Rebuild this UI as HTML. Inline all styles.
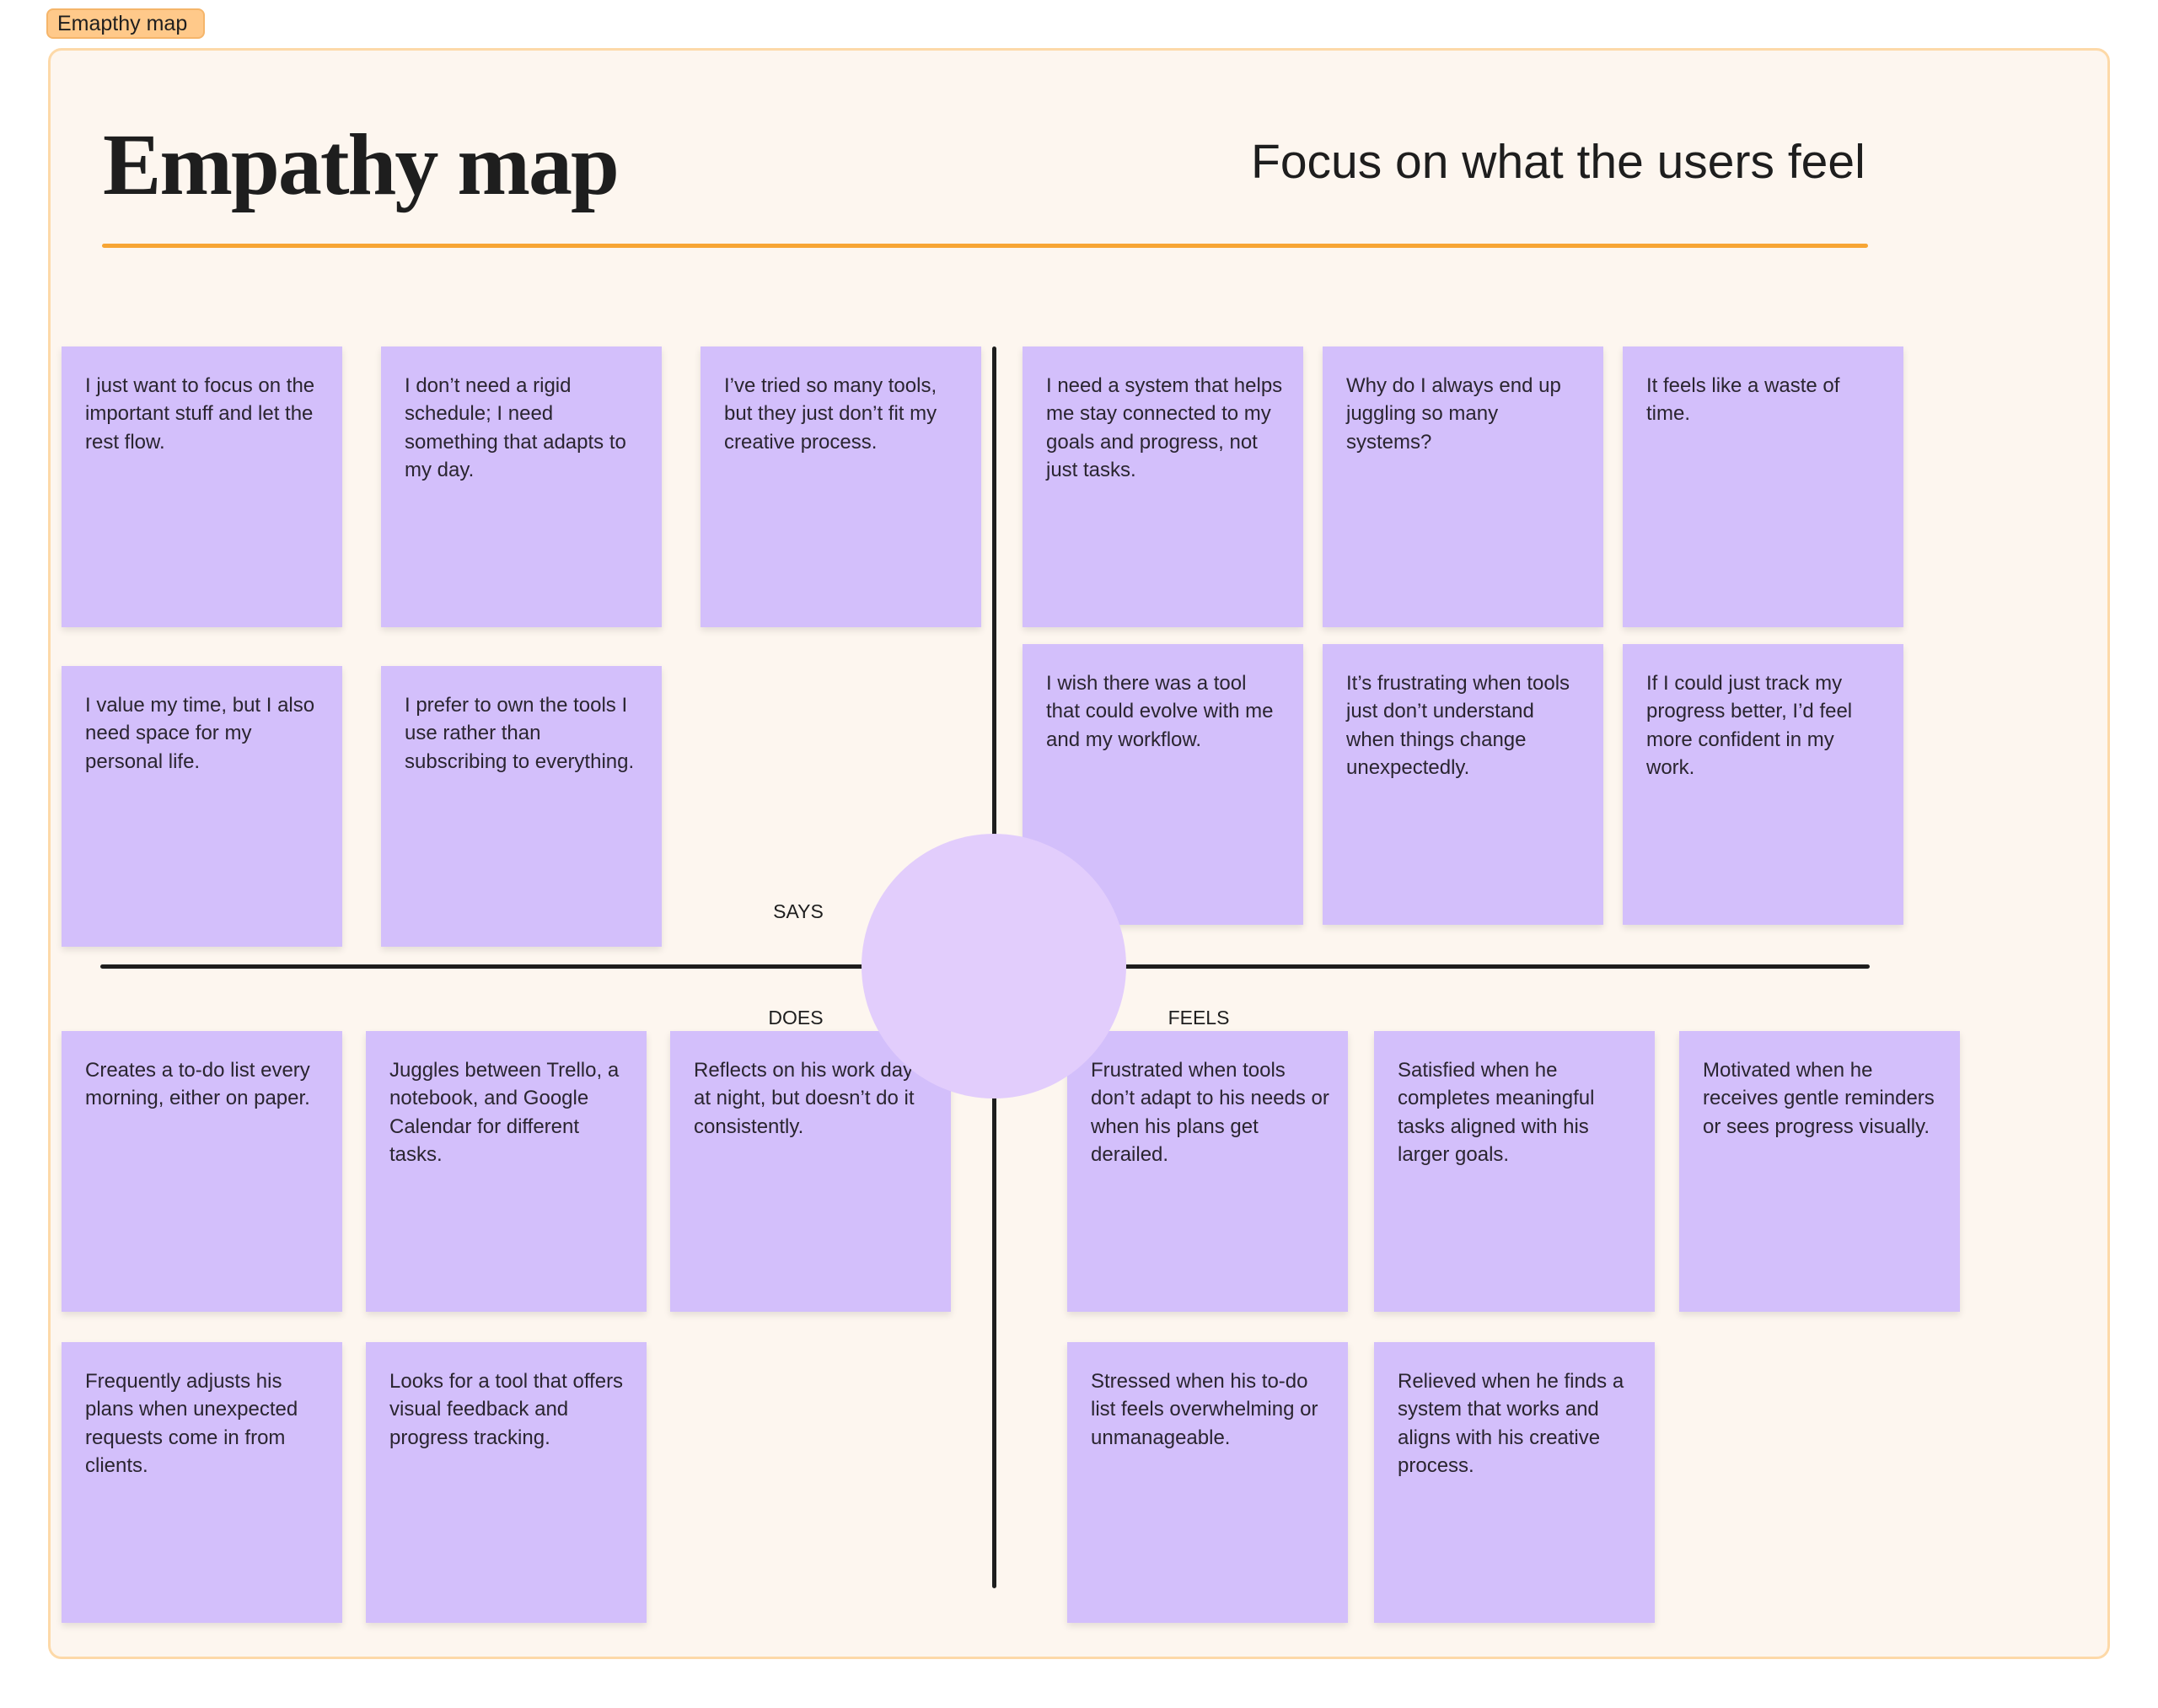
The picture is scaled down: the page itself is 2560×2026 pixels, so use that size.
<!DOCTYPE html>
<html><head><meta charset="utf-8"><style>
*{margin:0;padding:0;box-sizing:border-box}
body{width:2560px;height:2026px;background:#fff;position:relative;overflow:hidden;font-family:"Liberation Sans",sans-serif;color:#1e1e1e}
.tag{position:absolute;left:55px;top:10px;width:188px;height:36px;background:#ffc98a;border:2px solid #f5b56a;border-radius:8px;font-size:25px;line-height:32px;padding-left:11px}
.frame{position:absolute;left:57px;top:57px;width:2446px;height:1911px;background:#fdf6ef;border:3px solid #fdd9a8;border-radius:16px}
.title{position:absolute;left:122px;top:136px;font-family:"Liberation Serif",serif;font-weight:bold;font-size:104px;letter-spacing:-2px}
.sub{position:absolute;left:1484px;top:159px;font-size:57px}
.hl{position:absolute;background:#1e1e1e}
.s{position:absolute;width:333px;height:333px;background:#d3bffb;box-shadow:0 4px 8px rgba(0,0,0,0.1);padding:30px 0 30px 28px;font-size:24px;line-height:33.4px;color:#2a2530;white-space:nowrap;overflow:hidden}
.lab{position:absolute;font-size:23px;transform:translateX(-50%)}
</style></head><body>
<div class="tag">Emapthy map</div>
<div class="frame"></div>
<div class="title">Empathy map</div>
<div class="sub">Focus on what the users feel</div>
<div class="hl" style="left:121px;top:289px;width:2095px;height:5px;background:#f7a534;border-radius:3px"></div>
<div class="hl" style="left:1177px;top:411px;width:5px;height:1473px;border-radius:3px"></div>
<div class="hl" style="left:119px;top:1144px;width:2099px;height:5px;border-radius:3px"></div>

<div class="s" style="left:73px;top:411px">I just want to focus on the<br>important stuff and let the<br>rest flow.</div>
<div class="s" style="left:452px;top:411px">I don’t need a rigid<br>schedule; I need<br>something that adapts to<br>my day.</div>
<div class="s" style="left:831px;top:411px">I’ve tried so many tools,<br>but they just don’t fit my<br>creative process.</div>
<div class="s" style="left:73px;top:790px">I value my time, but I also<br>need space for my<br>personal life.</div>
<div class="s" style="left:452px;top:790px">I prefer to own the tools I<br>use rather than<br>subscribing to everything.</div>

<div class="s" style="left:1213px;top:411px">I need a system that helps<br>me stay connected to my<br>goals and progress, not<br>just tasks.</div>
<div class="s" style="left:1569px;top:411px">Why do I always end up<br>juggling so many<br>systems?</div>
<div class="s" style="left:1925px;top:411px">It feels like a waste of<br>time.</div>
<div class="s" style="left:1213px;top:764px">I wish there was a tool<br>that could evolve with me<br>and my workflow.</div>
<div class="s" style="left:1569px;top:764px">It’s frustrating when tools<br>just don’t understand<br>when things change<br>unexpectedly.</div>
<div class="s" style="left:1925px;top:764px">If I could just track my<br>progress better, I’d feel<br>more confident in my<br>work.</div>

<div class="s" style="left:73px;top:1223px">Creates a to-do list every<br>morning, either on paper.</div>
<div class="s" style="left:434px;top:1223px">Juggles between Trello, a<br>notebook, and Google<br>Calendar for different<br>tasks.</div>
<div class="s" style="left:795px;top:1223px">Reflects on his work day<br>at night, but doesn’t do it<br>consistently.</div>
<div class="s" style="left:73px;top:1592px">Frequently adjusts his<br>plans when unexpected<br>requests come in from<br>clients.</div>
<div class="s" style="left:434px;top:1592px">Looks for a tool that offers<br>visual feedback and<br>progress tracking.</div>

<div class="s" style="left:1266px;top:1223px">Frustrated when tools<br>don’t adapt to his needs or<br>when his plans get<br>derailed.</div>
<div class="s" style="left:1630px;top:1223px">Satisfied when he<br>completes meaningful<br>tasks aligned with his<br>larger goals.</div>
<div class="s" style="left:1992px;top:1223px">Motivated when he<br>receives gentle reminders<br>or sees progress visually.</div>
<div class="s" style="left:1266px;top:1592px">Stressed when his to-do<br>list feels overwhelming or<br>unmanageable.</div>
<div class="s" style="left:1630px;top:1592px">Relieved when he finds a<br>system that works and<br>aligns with his creative<br>process.</div>

<div style="position:absolute;left:1022px;top:989px;width:314px;height:314px;border-radius:50%;background:#e2cdfc"></div>
<div class="lab" style="left:947px;top:1068px">SAYS</div>
<div class="lab" style="left:944px;top:1194px">DOES</div>
<div class="lab" style="left:1422px;top:1194px">FEELS</div>
</body></html>
